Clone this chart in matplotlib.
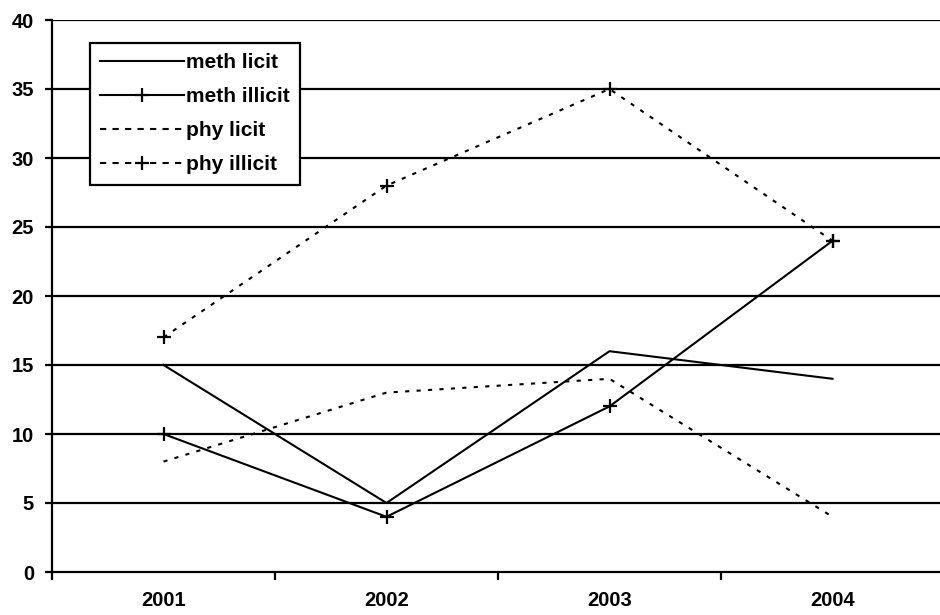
import matplotlib
matplotlib.use("Agg")
import matplotlib.pyplot as plt

years = ["2001", "2002", "2003", "2004"]
meth_licit = [15, 5, 16, 14]
meth_illicit = [10, 4, 12, 24]
phy_licit = [8, 13, 14, 4]
phy_illicit = [17, 28, 35, 24]

plt.rcParams['font.family'] = ['Liberation Sans', 'DejaVu Sans']
plt.rcParams['font.weight'] = 'bold'

fig = plt.figure(figsize=(9.4, 6.15), dpi=100)
W, H = 940, 615
left, right, top, bottom = 52, 944, 20, 572
ax = fig.add_axes([left / W, 1 - bottom / H, (right - left) / W, (bottom - top) / H])

dash = (0, (2.0, 3.5))
x = list(range(len(years)))
ax.plot(x, meth_licit, color='black', lw=1.5, label='meth licit')
ax.plot(x, meth_illicit, color='black', lw=1.5, marker='+', ms=10, mew=1.6,
        label='meth illicit')
ax.plot(x, phy_licit, color='black', lw=1.5, ls=dash, label='phy licit')
ax.plot(x, phy_illicit, color='black', lw=1.5, ls=dash, marker='+', ms=10,
        mew=1.6, label='phy illicit')

ax.set_xlim(-0.5, 3.5)
ax.set_ylim(0, 40)
ax.set_yticks(range(0, 41, 5))
for y in range(5, 41, 5):
    ax.axhline(y, color='black', lw=1.6, zorder=0)

ax.set_xticks([i + 0.5 for i in range(-1, 4)])
ax.set_xticklabels([])
ax.set_xticks(x, minor=True)
ax.set_xticklabels(years, minor=True, fontsize=14.5, fontweight='bold')
ax.tick_params(axis='x', which='minor', length=0, pad=14)
ax.tick_params(axis='x', which='major', length=6, width=1.6, direction='out')
ax.tick_params(axis='y', length=5, width=1.6, direction='out', labelsize=14.5, pad=8)

for s in ['top', 'right']:
    ax.spines[s].set_visible(False)
ax.spines['left'].set_linewidth(1.6)
ax.spines['bottom'].set_linewidth(1.6)

leg = ax.legend(loc='upper left', bbox_to_anchor=(90 / W, 1 - 43 / H),
                bbox_transform=fig.transFigure, borderaxespad=0, frameon=True,
                fancybox=False, edgecolor='black', framealpha=1,
                handlelength=4.0, handletextpad=0.1, labelspacing=0.72,
                borderpad=0.5, numpoints=1, prop={'size': 15, 'weight': 'bold'})
leg.get_frame().set_linewidth(1.6)
for h in leg.get_lines():
    if h.get_linestyle() != '-':
        h.set_linestyle((0, (3.0, 3.0)))

fig.savefig("out.png", dpi=100)
